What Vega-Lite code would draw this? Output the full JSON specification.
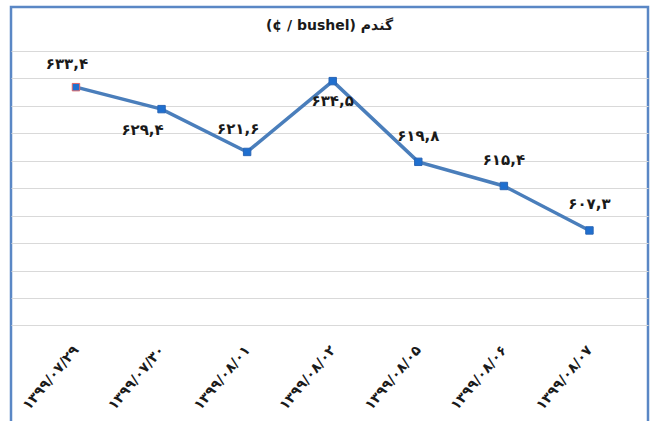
{
  "$schema": "https://vega.github.io/schema/vega-lite/v6.json",
  "autosize": "none",
  "width": 637,
  "height": 420,
  "padding": {"left": 11, "top": 7, "right": 2, "bottom": 0},
  "background": "white",
  "title": {
    "text": "(¢ / bushel) گندم",
    "font": "DejaVu Sans",
    "fontSize": 14,
    "fontWeight": "bold",
    "color": "#1a1a1a",
    "anchor": "middle",
    "baseline": "middle",
    "offset": -33
  },
  "config": {
    "view": {"stroke": "#5a87c5", "strokeWidth": 2.5}
  },
  "data": {
    "values": [
      {"date": "۱۳۹۹/۰۷/۲۹", "value": 633.4, "label": "۶۳۳,۴"},
      {"date": "۱۳۹۹/۰۷/۳۰", "value": 629.4, "label": "۶۲۹,۴"},
      {"date": "۱۳۹۹/۰۸/۰۱", "value": 621.6, "label": "۶۲۱,۶"},
      {"date": "۱۳۹۹/۰۸/۰۲", "value": 634.5, "label": "۶۳۴,۵"},
      {"date": "۱۳۹۹/۰۸/۰۵", "value": 619.8, "label": "۶۱۹,۸"},
      {"date": "۱۳۹۹/۰۸/۰۶", "value": 615.4, "label": "۶۱۵,۴"},
      {"date": "۱۳۹۹/۰۸/۰۷", "value": 607.3, "label": "۶۰۷,۳"}
    ]
  },
  "encoding": {
    "x": {
      "field": "date",
      "type": "ordinal",
      "sort": null,
      "scale": {"type": "point", "padding": 0.7216, "align": 0.526},
      "axis": {
        "title": null,
        "orient": "bottom",
        "offset": -101.6,
        "domain": false,
        "ticks": false,
        "grid": false,
        "labelAngle": -50,
        "labelAlign": "right",
        "labelBaseline": "middle",
        "labelPadding": 22,
        "labelFont": "DejaVu Sans",
        "labelFontSize": 14,
        "labelFontWeight": "bold",
        "labelColor": "#1a1a1a"
      }
    },
    "y": {
      "field": "value",
      "type": "quantitative",
      "scale": {"domain": [571.5, 648], "nice": false, "zero": false},
      "axis": {
        "title": null,
        "values": [590, 595, 600, 605, 610, 615, 620, 625, 630, 635, 640],
        "labels": false,
        "ticks": false,
        "domain": false,
        "grid": true,
        "gridColor": "#d9d9d9",
        "gridWidth": 1
      }
    }
  },
  "layer": [
    {"mark": {"type": "line", "color": "#4a7ebb", "strokeWidth": 3.5}},
    {
      "mark": {"type": "square", "size": 55, "filled": true, "fill": "#1f6fcf", "strokeWidth": 1, "opacity": 1},
      "encoding": {
        "stroke": {
          "condition": {"test": "datum.date === '۱۳۹۹/۰۷/۲۹'", "value": "#e06666"},
          "value": "#2b66b5"
        }
      }
    },
    {
      "transform": [{"filter": {"field": "date", "oneOf": ["۱۳۹۹/۰۸/۰۵", "۱۳۹۹/۰۸/۰۶", "۱۳۹۹/۰۸/۰۷"]}}],
      "mark": {"type": "text", "font": "DejaVu Sans", "fontSize": 15, "fontWeight": "bold", "color": "#1a1a1a", "dy": -26},
      "encoding": {"text": {"field": "label"}}
    },
    {
      "transform": [{"filter": {"field": "date", "oneOf": ["۱۳۹۹/۰۷/۲۹", "۱۳۹۹/۰۸/۰۱"]}}],
      "mark": {"type": "text", "font": "DejaVu Sans", "fontSize": 15, "fontWeight": "bold", "color": "#1a1a1a", "dy": -23, "dx": -9},
      "encoding": {"text": {"field": "label"}}
    },
    {
      "transform": [{"filter": {"field": "date", "oneOf": ["۱۳۹۹/۰۷/۳۰"]}}],
      "mark": {"type": "text", "font": "DejaVu Sans", "fontSize": 15, "fontWeight": "bold", "color": "#1a1a1a", "dy": 21, "dx": -19},
      "encoding": {"text": {"field": "label"}}
    },
    {
      "transform": [{"filter": {"field": "date", "oneOf": ["۱۳۹۹/۰۸/۰۲"]}}],
      "mark": {"type": "text", "font": "DejaVu Sans", "fontSize": 15, "fontWeight": "bold", "color": "#1a1a1a", "dy": 20},
      "encoding": {"text": {"field": "label"}}
    }
  ]
}
